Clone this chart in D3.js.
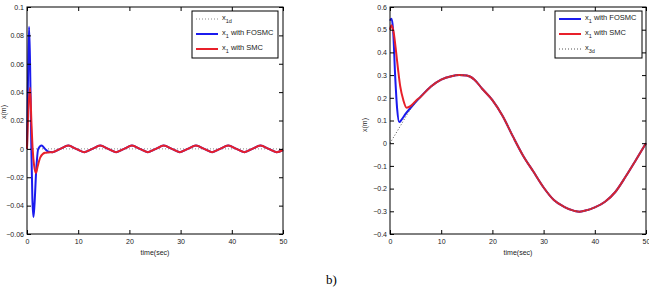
<!DOCTYPE html>
<html>
<head>
<meta charset="utf-8">
<script src="https://cdn.jsdelivr.net/npm/d3@7"></script>
<style>
  body { margin: 0; background: #fff; }
  svg { display: block; font-family: "Liberation Sans", Arial, sans-serif; }
</style>
</head>
<body>
<div id="chart"></div>
<script>
// ---- data ----
var xTicks = [0, 10, 20, 30, 40, 50];
var xTickLabels = ["0", "10", "20", "30", "40", "50"];

var leftYTicks = [-0.06, -0.04, -0.02, 0, 0.02, 0.04, 0.06, 0.08, 0.1];
var leftYTickLabels = ["\u22120.06", "\u22120.04", "\u22120.02", "0", "0.02", "0.04", "0.06", "0.08", "0.1"];
var rightYTicks = [-0.4, -0.3, -0.2, -0.1, 0, 0.1, 0.2, 0.3, 0.4, 0.5, 0.6];
var rightYTickLabels = ["\u22120.4", "\u22120.3", "\u22120.2", "\u22120.1", "0", "0.1", "0.2", "0.3", "0.4", "0.5", "0.6"];

// left panel: x1d reference (zero) and tracking errors
var x1dTime = [0, 50];
var x1dValue = [0, 0];

var leftTailTime = [5, 6.5, 8.07, 9.6, 11.2, 12.75, 14.3, 15.85, 17.4, 18.95, 20.5, 22.05, 23.6, 25.15,
    26.7, 28.3, 29.85, 31.4, 33.0, 34.6, 36.15, 37.7, 39.3, 40.9, 42.45, 44.0, 45.6, 47.2, 48.75, 50];
var leftTailValue = [-0.0023, 0, 0.0023, 0, -0.0023, 0, 0.0023, 0, -0.0023, 0, 0.0023, 0, -0.0023, 0,
    0.0023, 0, -0.0023, 0, 0.0023, 0, -0.0023, 0, 0.0023, 0, -0.0023, 0, 0.0023, 0, -0.0023, -0.0008];

var leftFosmcTime = [0, 0.2, 0.4, 0.6, 0.85, 1.05, 1.25, 1.45, 1.8, 2.2, 2.85, 3.5, 4.2];
var leftFosmcValue = [0, 0.05, 0.086, 0.06, 0.0, -0.035, -0.048, -0.04, -0.015, 0, 0.0023, 0.0, -0.002];

var leftSmcTime = [0, 0.3, 0.6, 0.85, 1.1, 1.4, 1.75, 2.1, 2.6, 3.5, 4.2];
var leftSmcValue = [0, 0.03, 0.043, 0.02, 0, -0.012, -0.017, -0.012, -0.006, -0.0028, -0.0025];

// right panel: x3d reference and responses
var x3dTime = [0, 2, 4, 6, 8, 10, 12, 13.5, 15, 16.5, 18, 20, 22, 24, 26, 28, 30, 32, 34, 36, 37, 38,
    40, 42, 44, 46, 48, 50];
var x3dValue = [0, 0.075, 0.15, 0.205, 0.25, 0.28, 0.295, 0.3, 0.298, 0.28, 0.24, 0.19, 0.12, 0.03,
    -0.055, -0.125, -0.195, -0.25, -0.28, -0.298, -0.302, -0.298, -0.283, -0.258, -0.215, -0.148, -0.075, 0];

var rightFosmcTime = [0, 0.3, 0.6, 1.0, 1.4, 1.8, 2.3, 3.0, 4.0];
var rightFosmcValue = [0.54, 0.548, 0.5, 0.3, 0.15, 0.093, 0.105, 0.128, 0.155];

var rightSmcTime = [0, 0.3, 0.7, 1.2, 1.6, 2.0, 2.6, 3.25, 4.0, 5.0];
var rightSmcValue = [0.5, 0.52, 0.49, 0.4, 0.32, 0.25, 0.19, 0.156, 0.163, 0.185];

var blue = "#1b1bee";
var red = "#e8202a";
var dotGray = "#8a8a8a";

function zipPts(ts, vs) {
    return ts.map(function (t, i) { return [t, vs[i]]; });
}

var leftTail = zipPts(leftTailTime, leftTailValue);
var x3dPts = zipPts(x3dTime, x3dValue);

var svg = d3.select("#chart").append("svg").attr("width", 649).attr("height", 292);

function drawPanel(p) {
    var x = d3.scaleLinear().domain([0, 50]).range([p.left, p.left + 256]);
    var y = d3.scaleLinear().domain(p.yDomain).range([234, 7]);
    var g = svg.append("g");

    var line = d3.line()
        .x(function (d) { return x(d[0]); })
        .y(function (d) { return y(d[1]); })
        .curve(d3.curveMonotoneX);

    p.series.forEach(function (s) {
        g.append("path")
            .attr("d", line(s.pts))
            .attr("fill", "none")
            .attr("stroke", s.color)
            .attr("stroke-width", s.width)
            .attr("stroke-dasharray", s.dash || null);
    });

    // axes, ticks pointing inward
    var bottom = d3.axisBottom(x).tickValues(xTicks).tickSize(-4).tickPadding(5)
        .tickFormat(function (d, i) { return xTickLabels[i]; });
    var top = d3.axisTop(x).tickValues(xTicks).tickSize(-4).tickFormat("");
    var left = d3.axisLeft(y).tickValues(p.yTicks).tickSize(-4).tickPadding(3)
        .tickFormat(function (d, i) { return p.yLabels[i]; });
    var right = d3.axisRight(y).tickValues(p.yTicks).tickSize(-4).tickFormat("");

    [[bottom, "translate(0,234)"], [top, "translate(0,7)"],
     [left, "translate(" + p.left + ",0)"], [right, "translate(" + (p.left + 256) + ",0)"]].forEach(function (a) {
        var ax = g.append("g").attr("transform", a[1]).call(a[0]);
        ax.select(".domain").remove();
        ax.selectAll("line").attr("stroke", "#000");
        ax.selectAll("text").attr("font-size", "7px").attr("fill", "#1a1a1a")
            .attr("font-family", "Liberation Sans, Arial, sans-serif");
    });

    g.append("rect")
        .attr("x", p.left).attr("y", 7)
        .attr("width", 256).attr("height", 227)
        .attr("fill", "none").attr("stroke", "#000").attr("stroke-width", 1);

    g.append("text")
        .attr("x", p.left + 128).attr("y", 255)
        .attr("text-anchor", "middle")
        .attr("font-size", "7px").attr("fill", "#1a1a1a")
        .text("time(sec)");

    g.append("text")
        .attr("transform", "translate(" + p.yLabelX + "," + p.yLabelY + ") rotate(-90)")
        .attr("text-anchor", "middle")
        .attr("font-size", "7px").attr("fill", "#1a1a1a")
        .text("x(m)");

    // legend
    var lg = g.append("g");
    lg.append("rect")
        .attr("x", p.legX).attr("y", 11)
        .attr("width", p.legW).attr("height", 47)
        .attr("fill", "#fff").attr("stroke", "#000").attr("stroke-width", 1);

    p.legend.forEach(function (e, i) {
        var ly = 19 + i * 15;
        lg.append("line")
            .attr("x1", p.legX + 4).attr("x2", p.legX + 26)
            .attr("y1", ly).attr("y2", ly)
            .attr("stroke", e.color)
            .attr("stroke-width", e.dash ? 1 : 2)
            .attr("stroke-dasharray", e.dash || null);
        var t = lg.append("text")
            .attr("x", p.legX + 30).attr("y", ly + 1)
            .attr("font-size", "7.5px").attr("fill", "#1a1a1a");
        t.append("tspan").text("x");
        t.append("tspan").attr("dy", 2.5).attr("font-size", "5.5px").text(e.sub);
        t.append("tspan").attr("dy", -2.5).text(e.rest);
    });
}

drawPanel({
    left: 27,
    yDomain: [-0.06, 0.1],
    yTicks: leftYTicks,
    yLabels: leftYTickLabels,
    yLabelX: 6, yLabelY: 112,
    series: [
        { pts: zipPts(x1dTime, x1dValue), color: dotGray, width: 1, dash: "1,2" },
        { pts: zipPts(leftFosmcTime, leftFosmcValue).concat(leftTail), color: blue, width: 2 },
        { pts: zipPts(leftSmcTime, leftSmcValue).concat(leftTail), color: red, width: 2 }
    ],
    legX: 192, legW: 86,
    legend: [
        { sub: "1d", rest: "", color: dotGray, dash: "1,2" },
        { sub: "1", rest: " with FOSMC", color: blue },
        { sub: "1", rest: " with SMC", color: red }
    ]
});

drawPanel({
    left: 390,
    yDomain: [-0.4, 0.6],
    yTicks: rightYTicks,
    yLabels: rightYTickLabels,
    yLabelX: 367, yLabelY: 125,
    series: [
        { pts: zipPts(rightFosmcTime, rightFosmcValue).concat(x3dPts.slice(3)), color: blue, width: 2 },
        { pts: zipPts(rightSmcTime, rightSmcValue).concat(x3dPts.slice(3)), color: red, width: 2 },
        { pts: x3dPts, color: "#555", width: 1, dash: "1,2" }
    ],
    legX: 555, legW: 87,
    legend: [
        { sub: "1", rest: " with FOSMC", color: blue },
        { sub: "1", rest: " with SMC", color: red },
        { sub: "3d", rest: "", color: "#555", dash: "1,2" }
    ]
});

svg.append("text")
    .attr("x", 326).attr("y", 284)
    .attr("font-family", "Liberation Serif, Times New Roman, serif")
    .attr("font-size", "13px").attr("fill", "#000")
    .text("b)");
</script>
</body>
</html>
